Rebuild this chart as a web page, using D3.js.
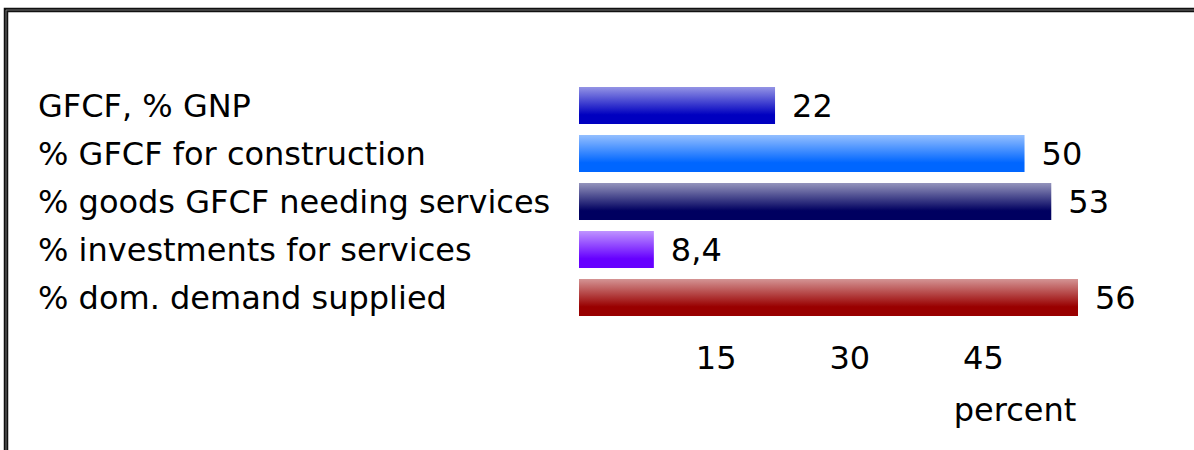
<!DOCTYPE html>
<html>
<head>
<meta charset="utf-8">
<script src="https://cdn.jsdelivr.net/npm/d3@7"></script>
<style>
  html, body { margin: 0; padding: 0; background: #fff; }
  svg { display: block; }
  text { font-family: "DejaVu Sans", Verdana, sans-serif; fill: #000; }
</style>
</head>
<body>
<svg id="chart" width="1194" height="450"></svg>
<script>
const categories = [
  "GFCF, % GNP",
  "% GFCF for construction",
  "% goods GFCF needing services",
  "% investments for services",
  "% dom. demand supplied"
];
const values = [22, 50, 53, 8.4, 56];
const valueLabels = ["22", "50", "53", "8,4", "56"];
const barColors = ["#0000c0", "#0066ff", "#000060", "#6600ff", "#990000"];
const tickValues = [15, 30, 45];
const axisTitle = "percent";

const svg = d3.select("#chart");
const W = 1194, H = 450;
const fs = 32;

svg.append("rect").attr("width", W).attr("height", H).attr("fill", "#fff");

// frame (double dark line, open to the right and bottom)
svg.append("path")
  .attr("d", `M6,${H + 10} V10 H${W + 10}`)
  .attr("fill", "none").attr("stroke", "#111").attr("stroke-width", 4.5);
svg.append("path")
  .attr("d", `M6,${H + 10} V10 H${W + 10}`)
  .attr("fill", "none").attr("stroke", "#888").attr("stroke-width", 0.8);

const x = d3.scaleLinear().domain([0, 56]).range([579, 1078]);
const y = d3.scaleBand().domain(categories).range([81.5, 321.5]).paddingInner(0.229).paddingOuter(0.1145);

const defs = svg.append("defs");
barColors.forEach((c, i) => {
  const light = d3.interpolateRgb(c, "#ffffff")(0.58);
  const g = defs.append("linearGradient").attr("id", "grad" + i)
    .attr("x1", 0).attr("y1", 0).attr("x2", 0).attr("y2", 1);
  g.append("stop").attr("offset", "0%").attr("stop-color", light);
  g.append("stop").attr("offset", "75%").attr("stop-color", c);
  g.append("stop").attr("offset", "100%").attr("stop-color", c);
});

const rows = categories.map((c, i) => ({ cat: c, v: values[i], lab: valueLabels[i], i }));

svg.append("g").selectAll("rect").data(rows).join("rect")
  .attr("x", x(0))
  .attr("y", d => y(d.cat))
  .attr("width", d => x(d.v) - x(0))
  .attr("height", y.bandwidth())
  .attr("fill", d => `url(#grad${d.i})`);

svg.append("g").selectAll("text").data(rows).join("text")
  .attr("x", 38)
  .attr("y", d => y(d.cat) + y.bandwidth() / 2 + 11.5)
  .attr("font-size", fs)
  .text(d => d.cat);

svg.append("g").selectAll("text").data(rows).join("text")
  .attr("x", d => x(d.v) + 17)
  .attr("y", d => y(d.cat) + y.bandwidth() / 2 + 11.5)
  .attr("font-size", fs)
  .text(d => d.lab);

const axis = d3.axisBottom(x).tickValues(tickValues).tickSize(0).tickPadding(0).tickFormat(d3.format("d"));
const ax = svg.append("g").attr("transform", "translate(0,369)").call(axis);
ax.select(".domain").remove();
ax.selectAll("text")
  .attr("dy", 0).attr("dx", 3)
  .attr("font-size", fs)
  .style("font-family", '"DejaVu Sans", Verdana, sans-serif')
  .attr("fill", "#000");

svg.append("text")
  .attr("x", 1015).attr("y", 421)
  .attr("text-anchor", "middle")
  .attr("font-size", fs)
  .text(axisTitle);
</script>
</body>
</html>
